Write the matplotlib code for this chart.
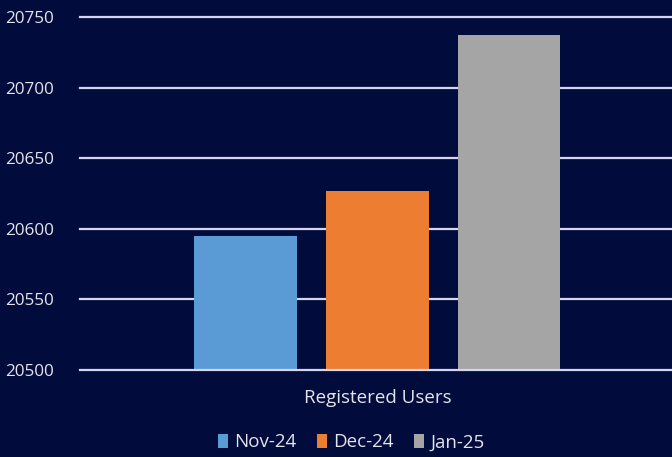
import numpy as np
import matplotlib.pyplot as plt
from matplotlib.patches import Patch

category = "Registered Users"
months = ["Nov-24", "Dec-24", "Jan-25"]
users = [20595, 20627, 20737]
colors = ["#5b9bd5", "#ed7d31", "#a5a5a5"]
yticks = [20500, 20550, 20600, 20650, 20700, 20750]

bg = "#010b3c"
txt = "#e4e4ec"
plt.rcParams['font.family'] = ['Open Sans', 'DejaVu Sans']

fig = plt.figure(figsize=(6.72, 4.57), dpi=100, facecolor=bg)
ax = fig.add_axes([80 / 672, 1 - 370 / 457, 1 - 80 / 672, (370 - 17) / 457])
ax.set_facecolor(bg)

x = np.arange(len(months)) - 1
for xi, v, c, m in zip(x, users, colors, months):
    ax.bar(xi, v - yticks[0], bottom=yticks[0], width=0.78, color=c, label=m, zorder=2)

ax.set_ylim(yticks[0], yticks[-1])
ax.set_xlim(-2.26, 2.24)
ax.set_yticks(yticks)
ax.set_yticklabels([str(t) for t in yticks], color=txt, fontsize=12.3)
ax.set_xticks([0])
ax.set_xticklabels([category], color=txt, fontsize=13.5)
ax.tick_params(axis='y', length=0, pad=19)
ax.tick_params(axis='x', length=0, pad=14)
for t in yticks:
    ax.axhline(t, color="#d4d6ee", lw=1.6, zorder=1 if t != yticks[0] else 3, clip_on=False)
for s in ax.spines.values():
    s.set_visible(False)

handles = [Patch(facecolor=c, label=m) for c, m in zip(colors, months)]
leg = fig.legend(handles=handles, loc='center', bbox_to_anchor=(0.523, 0.032), ncol=3,
                 frameon=False, fontsize=13.5, handlelength=0.5, handleheight=0.8,
                 handletextpad=0.35, columnspacing=1.1)
for t in leg.get_texts():
    t.set_color(txt)

fig.savefig("out.png", dpi=100, facecolor=bg)
